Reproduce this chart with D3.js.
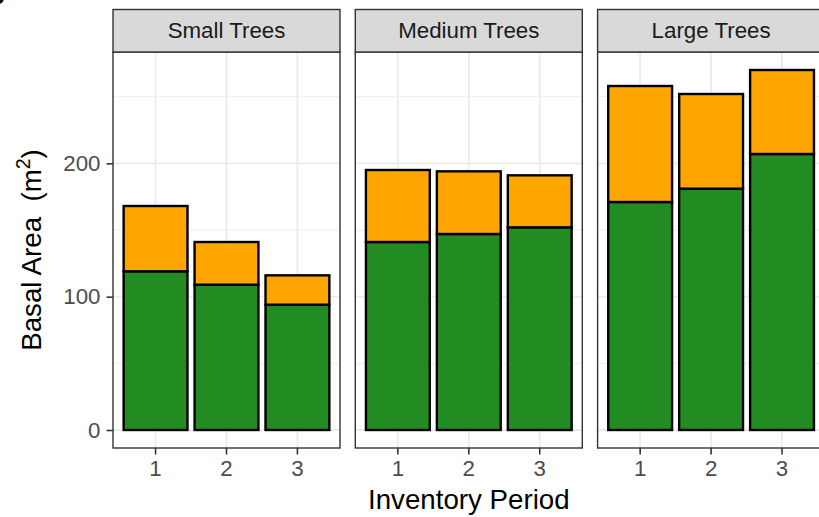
<!DOCTYPE html>
<html>
<head>
<meta charset="utf-8">
<script src="https://cdn.jsdelivr.net/npm/d3@7"></script>
<style>
  html, body { margin: 0; padding: 0; background: #ffffff; }
  svg { display: block; }
  text { font-family: "Liberation Sans", Arial, sans-serif; }
</style>
</head>
<body>
<svg id="chart" width="819" height="517"></svg>
<script>
// Basal area by tree size class and inventory period
const sizeClasses = ["Small Trees", "Medium Trees", "Large Trees"];
const periods = ["1", "2", "3"];
// lower (green) component of each stacked bar, per size class
const greenValues = [
  [119, 109, 94],
  [141, 147, 152],
  [171, 181, 207]
];
// upper (orange) component stacked on top of the green one
const orangeValues = [
  [49, 32, 22],
  [54, 47, 39],
  [87, 71, 63]
];
const yTicks = [0, 100, 200];
const yMinorTicks = [50, 150, 250];

const svg = d3.select("#chart");

// panel geometry
const panelLeft = 113, panelW = 227, panelGap = 15.3;
const panelTop = 52, panelBottom = 448;
const stripTop = 9.5;
const smallFont = 22.3, titleFont = 27.7;

const totals = greenValues.map((g, i) => g.map((v, j) => v + orangeValues[i][j]));
const yMax = d3.max(totals.flat());
const y = d3.scaleLinear()
  .domain([-0.05 * yMax, 1.05 * yMax])
  .range([panelBottom, panelTop]);

const x = d3.scaleBand()
  .domain(periods)
  .range([0, panelW])
  .paddingInner(0.1)
  .paddingOuter(0.15);

const gridColor = "#ebebeb";
const borderColor = "#333333";

// panel tag in the corner
svg.append("text")
  .attr("x", -12).attr("y", 4)
  .attr("font-size", 28).attr("font-weight", "bold")
  .attr("fill", "#000")
  .text("b");

sizeClasses.forEach((name, i) => {
  const x0 = panelLeft + i * (panelW + panelGap);
  const g = svg.append("g").attr("transform", `translate(${x0},0)`);

  // background
  g.append("rect")
    .attr("x", 0).attr("y", panelTop)
    .attr("width", panelW).attr("height", panelBottom - panelTop)
    .attr("fill", "#ffffff");

  // minor horizontal grid
  g.selectAll("line.ymin").data(yMinorTicks).join("line")
    .attr("x1", 0).attr("x2", panelW)
    .attr("y1", d => y(d)).attr("y2", d => y(d))
    .attr("stroke", gridColor).attr("stroke-width", 0.9);

  // major horizontal grid
  g.selectAll("line.ymaj").data(yTicks).join("line")
    .attr("x1", 0).attr("x2", panelW)
    .attr("y1", d => y(d)).attr("y2", d => y(d))
    .attr("stroke", gridColor).attr("stroke-width", 1.8);

  // major vertical grid
  g.selectAll("line.xmaj").data(periods).join("line")
    .attr("x1", d => x(d) + x.bandwidth() / 2).attr("x2", d => x(d) + x.bandwidth() / 2)
    .attr("y1", panelTop).attr("y2", panelBottom)
    .attr("stroke", gridColor).attr("stroke-width", 1.8);

  // green bars
  g.selectAll("rect.green").data(periods).join("rect")
    .attr("x", (d) => x(d))
    .attr("width", x.bandwidth())
    .attr("y", (d, j) => y(greenValues[i][j]))
    .attr("height", (d, j) => y(0) - y(greenValues[i][j]))
    .attr("fill", "#228B22")
    .attr("stroke", "#000").attr("stroke-width", 2.4);

  // orange bars stacked on top
  g.selectAll("rect.orange").data(periods).join("rect")
    .attr("x", (d) => x(d))
    .attr("width", x.bandwidth())
    .attr("y", (d, j) => y(greenValues[i][j] + orangeValues[i][j]))
    .attr("height", (d, j) => y(greenValues[i][j]) - y(greenValues[i][j] + orangeValues[i][j]))
    .attr("fill", "#FFA500")
    .attr("stroke", "#000").attr("stroke-width", 2.4);

  // panel border
  g.append("rect")
    .attr("x", 0).attr("y", panelTop)
    .attr("width", panelW).attr("height", panelBottom - panelTop)
    .attr("fill", "none").attr("stroke", borderColor).attr("stroke-width", 1.4);

  // strip
  g.append("rect")
    .attr("x", 0).attr("y", stripTop)
    .attr("width", panelW).attr("height", panelTop - stripTop)
    .attr("fill", "#d9d9d9").attr("stroke", borderColor).attr("stroke-width", 1.4);
  g.append("text")
    .attr("x", panelW / 2).attr("y", (stripTop + panelTop) / 2)
    .attr("text-anchor", "middle").attr("dominant-baseline", "central")
    .attr("font-size", smallFont).attr("fill", "#1a1a1a")
    .text(name);

  // x axis
  const xAxis = d3.axisBottom(x).tickSize(6.5).tickPadding(6);
  const ax = g.append("g").attr("transform", `translate(0,${panelBottom})`).call(xAxis);
  ax.select(".domain").remove();
  ax.selectAll(".tick line").attr("stroke", borderColor).attr("stroke-width", 1.6);
  ax.selectAll(".tick text").attr("font-size", smallFont).attr("fill", "#4d4d4d")
    .attr("font-family", '"Liberation Sans", Arial, sans-serif');

  if (i === 0) {
    const yAxis = d3.axisLeft(y).tickValues(yTicks).tickSize(6.5).tickPadding(6);
    const ay = g.append("g").call(yAxis);
    ay.select(".domain").remove();
    ay.selectAll(".tick line").attr("stroke", borderColor).attr("stroke-width", 1.6);
    ay.selectAll(".tick text").attr("font-size", smallFont).attr("fill", "#4d4d4d")
      .attr("font-family", '"Liberation Sans", Arial, sans-serif');
  }
});

// axis titles
const plotMid = panelLeft + (3 * panelW + 2 * panelGap) / 2;
svg.append("text")
  .attr("x", plotMid).attr("y", 509)
  .attr("text-anchor", "middle")
  .attr("font-size", titleFont).attr("fill", "#000")
  .text("Inventory Period");

const yTitle = svg.append("text")
  .attr("transform", `translate(41,${(panelTop + panelBottom) / 2}) rotate(-90)`)
  .attr("text-anchor", "middle")
  .attr("font-size", titleFont).attr("fill", "#000");
yTitle.append("tspan").text("Basal Area\u00a0\u00a0(m");
yTitle.append("tspan").attr("dy", -11).attr("font-size", 19.5).text("2");
yTitle.append("tspan").attr("dy", 11).text(")");
</script>
</body>
</html>
